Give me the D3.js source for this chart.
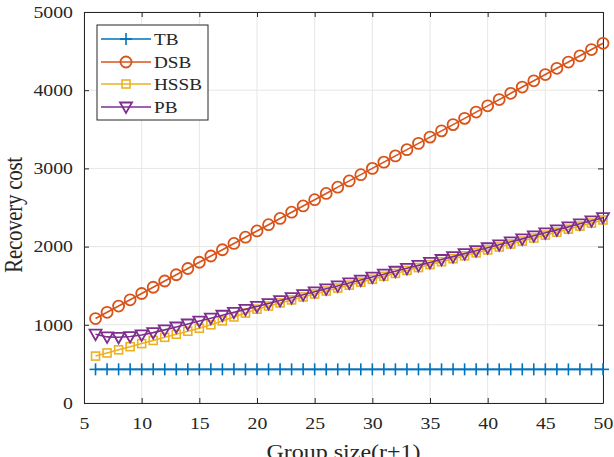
<!DOCTYPE html>
<html>
<head>
<meta charset="utf-8">
<script src="https://cdn.jsdelivr.net/npm/d3@7"></script>
<style>
  body { margin: 0; background: #fff; }
</style>
</head>
<body>
<div id="chart"></div>
<script>
const groupSize = d3.range(6, 51);
const xTicks = [5, 10, 15, 20, 25, 30, 35, 40, 45, 50];
const yTicks = [0, 1000, 2000, 3000, 4000, 5000];

const tbCost = [430, 430, 430, 430, 430, 430, 430, 430, 430, 430, 430, 430, 430, 430, 430,
  430, 430, 430, 430, 430, 430, 430, 430, 430, 430, 430, 430, 430, 430, 430,
  430, 430, 430, 430, 430, 430, 430, 430, 430, 430, 430, 430, 430, 430, 430];
const dsbCost = [1080, 1160, 1240, 1320, 1400, 1480, 1560, 1640, 1720, 1800, 1880, 1960, 2040, 2120, 2200,
  2280, 2360, 2440, 2520, 2600, 2680, 2760, 2840, 2920, 3000, 3080, 3160, 3240, 3320, 3400,
  3480, 3560, 3640, 3720, 3800, 3880, 3960, 4040, 4120, 4200, 4280, 4360, 4440, 4520, 4600];
const hssbCost = [600, 640, 680, 720, 760, 800, 840, 880, 918, 956, 1000, 1050, 1100, 1150, 1200,
  1240, 1280, 1318, 1356, 1394, 1432, 1470, 1507, 1545, 1582, 1620, 1657, 1695, 1732, 1770,
  1807, 1845, 1882, 1920, 1957, 1995, 2033, 2071, 2109, 2147, 2185, 2223, 2262, 2301, 2340];
const pbCost = [880, 845, 840, 850, 870, 900, 935, 972, 1010, 1048, 1085, 1122, 1160, 1197, 1235,
  1272, 1310, 1347, 1385, 1422, 1460, 1497, 1535, 1572, 1610, 1647, 1685, 1722, 1760, 1797,
  1835, 1872, 1910, 1947, 1985, 2023, 2061, 2099, 2138, 2176, 2214, 2252, 2291, 2330, 2370];

const series = [
  { name: "TB", values: tbCost, color: "#0072BD", marker: "plus" },
  { name: "DSB", values: dsbCost, color: "#D95319", marker: "circle" },
  { name: "HSSB", values: hssbCost, color: "#EDB120", marker: "square" },
  { name: "PB", values: pbCost, color: "#7E2F8E", marker: "triangle" }
];

const width = 614, height = 457;
const margin = { left: 84, right: 11, top: 12, bottom: 54 };
const serif = "'Liberation Serif', 'Times New Roman', serif";
const stretch = 1.2; // the figure text looks stretched sideways
const textColor = "#262626";

const svg = d3.select("#chart").append("svg")
  .attr("width", width)
  .attr("height", height);

const x = d3.scaleLinear().domain([5, 50]).range([margin.left, width - margin.right]);
const y = d3.scaleLinear().domain([0, 5000]).range([height - margin.bottom, margin.top]);

// grid
svg.append("g").selectAll("line")
  .data(xTicks).enter().append("line")
  .attr("x1", d => x(d)).attr("x2", d => x(d))
  .attr("y1", y(0)).attr("y2", y(5000))
  .attr("stroke", "#e6e6e6").attr("stroke-width", 1);
svg.append("g").selectAll("line")
  .data(yTicks).enter().append("line")
  .attr("x1", x(5)).attr("x2", x(50))
  .attr("y1", d => y(d)).attr("y2", d => y(d))
  .attr("stroke", "#e6e6e6").attr("stroke-width", 1);

// axes, ticks pointing inward
const bottomAxis = svg.append("g")
  .attr("transform", `translate(0,${y(0)})`)
  .call(d3.axisBottom(x).tickValues(xTicks).tickSizeInner(-5).tickSizeOuter(0)
    .tickPadding(14).tickFormat(d3.format("d")));
const leftAxis = svg.append("g")
  .attr("transform", `translate(${x(5)},0)`)
  .call(d3.axisLeft(y).tickValues(yTicks).tickSizeInner(-5).tickSizeOuter(0)
    .tickPadding(11).tickFormat(d3.format("d")));
const topAxis = svg.append("g")
  .attr("transform", `translate(0,${y(5000)})`)
  .call(d3.axisTop(x).tickValues(xTicks).tickSizeInner(-5).tickSizeOuter(0).tickFormat(""));
const rightAxis = svg.append("g")
  .attr("transform", `translate(${x(50)},0)`)
  .call(d3.axisRight(y).tickValues(yTicks).tickSizeInner(-5).tickSizeOuter(0).tickFormat(""));

[bottomAxis, leftAxis, topAxis, rightAxis].forEach(a => {
  a.attr("font-family", serif).attr("font-size", 16.5);
  a.select(".domain").attr("stroke", textColor).attr("stroke-width", 1);
  a.selectAll(".tick line").attr("stroke", textColor);
  a.selectAll("text")
    .attr("fill", textColor)
    .attr("transform", function() {
      const tx = +d3.select(this).attr("x") || 0;
      return `translate(${tx * (1 - stretch)},0) scale(${stretch},1)`;
    });
});

// lines + markers
const line = d3.line()
  .x((d, i) => x(groupSize[i]))
  .y(d => y(d));

function drawMarker(g, type, color) {
  if (type === "plus") {
    g.append("line").attr("x1", 0).attr("x2", 0).attr("y1", -6).attr("y2", 6)
      .attr("stroke", color).attr("stroke-width", 1.6);
    g.append("line").attr("x1", -6).attr("x2", 6).attr("y1", 0).attr("y2", 0)
      .attr("stroke", color).attr("stroke-width", 1.6);
  } else if (type === "circle") {
    g.append("circle").attr("r", 5.5)
      .attr("fill", "none").attr("stroke", color).attr("stroke-width", 1.8);
  } else if (type === "square") {
    g.append("rect").attr("x", -4).attr("y", -4).attr("width", 8).attr("height", 8)
      .attr("fill", "none").attr("stroke", color).attr("stroke-width", 1.6);
  } else if (type === "triangle") {
    g.append("path").attr("d", "M-6,-4.5L6,-4.5L0,6Z")
      .attr("fill", "none").attr("stroke", color).attr("stroke-width", 1.8);
  }
}

series.forEach(s => {
  const g = svg.append("g");
  g.append("path")
    .datum(s.values)
    .attr("d", line)
    .attr("fill", "none")
    .attr("stroke", s.color)
    .attr("stroke-width", 1.6);
  s.values.forEach((v, i) => {
    const m = g.append("g").attr("transform", `translate(${x(groupSize[i])},${y(v)})`);
    drawMarker(m, s.marker, s.color);
  });
});

// legend
const legend = svg.append("g").attr("transform", "translate(97,25)");
legend.append("rect")
  .attr("width", 111).attr("height", 95)
  .attr("fill", "#fff").attr("stroke", textColor).attr("stroke-width", 1);
const rowY = [14, 37, 59, 82];
series.forEach((s, i) => {
  const row = legend.append("g").attr("transform", `translate(0,${rowY[i]})`);
  row.append("line").attr("x1", 4).attr("x2", 54).attr("y1", 0).attr("y2", 0)
    .attr("stroke", s.color).attr("stroke-width", 1.6);
  const m = row.append("g").attr("transform", "translate(29,0)");
  drawMarker(m, s.marker, s.color);
  row.append("text")
    .attr("transform", `translate(57,6) scale(${stretch},1)`)
    .attr("font-family", serif)
    .attr("font-size", 16)
    .attr("fill", textColor)
    .text(s.name);
});

// axis labels
svg.append("text")
  .attr("transform", `translate(${(x(5) + x(50)) / 2},459) scale(${stretch},1)`)
  .attr("text-anchor", "middle")
  .attr("font-family", serif)
  .attr("font-size", 20)
  .attr("fill", textColor)
  .text("Group size(r+1)");

svg.append("text")
  .attr("transform", `translate(22,215) rotate(-90) scale(1,${stretch})`)
  .attr("text-anchor", "middle")
  .attr("font-family", serif)
  .attr("font-size", 21)
  .attr("letter-spacing", "-0.3")
  .attr("fill", textColor)
  .text("Recovery cost");
</script>
</body>
</html>
